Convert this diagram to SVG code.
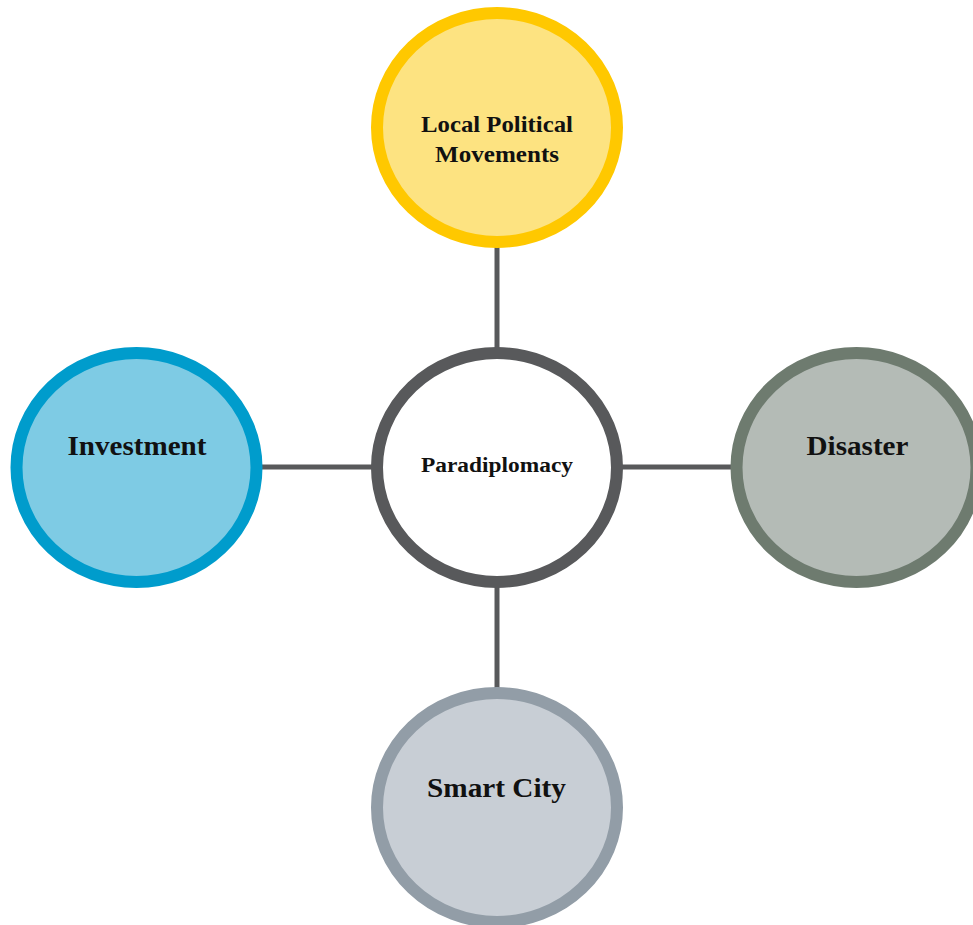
<svg xmlns="http://www.w3.org/2000/svg" width="973" height="925" viewBox="0 0 973 925">
<style>
.node{stroke-width:12}
.lbl{font-family:"Liberation Serif","Times New Roman",serif;font-weight:bold;fill:#111;text-anchor:middle}
.conn{stroke:#58595B;stroke-width:5;fill:none}
</style>
<rect width="973" height="925" fill="#ffffff"/>
<g id="connectors">
<line class="conn" x1="497" y1="246" x2="497" y2="349"/>
<line class="conn" x1="497" y1="586" x2="497" y2="690"/>
<line class="conn" x1="261" y1="467" x2="373" y2="467"/>
<line class="conn" x1="620" y1="467" x2="733" y2="467"/>
</g>
<g id="node-top">
<ellipse class="node" cx="497" cy="127.5" rx="120" ry="114.5" fill="#FDE381" stroke="#FFC800"/>
<text class="lbl" x="497" y="132" font-size="23" textLength="152" lengthAdjust="spacingAndGlyphs">Local Political</text>
<text class="lbl" x="497" y="162" font-size="23" textLength="124" lengthAdjust="spacingAndGlyphs">Movements</text>
</g>
<g id="node-center">
<ellipse class="node" cx="497" cy="467.5" rx="120" ry="114.5" fill="#FFFFFF" stroke="#58595B"/>
<text class="lbl" x="497" y="472" font-size="20" textLength="152" lengthAdjust="spacingAndGlyphs">Paradiplomacy</text>
</g>
<g id="node-left">
<ellipse class="node" cx="136.5" cy="467.5" rx="120" ry="114.5" fill="#7ECBE4" stroke="#009CCC"/>
<text class="lbl" x="137" y="455" font-size="27" textLength="139" lengthAdjust="spacingAndGlyphs">Investment</text>
</g>
<g id="node-right">
<ellipse class="node" cx="856.5" cy="467.5" rx="120" ry="114.5" fill="#B4BBB6" stroke="#6E7B6F"/>
<text class="lbl" x="857.5" y="455" font-size="27" textLength="102" lengthAdjust="spacingAndGlyphs">Disaster</text>
</g>
<g id="node-bottom">
<ellipse class="node" cx="497" cy="807.5" rx="120" ry="114.5" fill="#C8CED5" stroke="#929DA7"/>
<text class="lbl" x="496.5" y="797" font-size="27" textLength="139" lengthAdjust="spacingAndGlyphs">Smart City</text>
</g>
</svg>
